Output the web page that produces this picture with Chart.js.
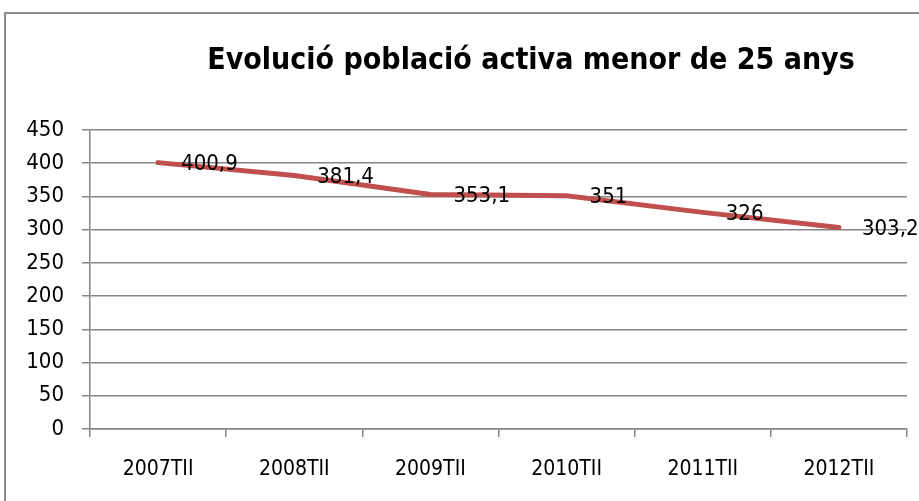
<!DOCTYPE html>
<html>
<head>
<meta charset="utf-8">
<script src="https://cdn.jsdelivr.net/npm/chart.js@4/dist/chart.umd.min.js"></script>
<style>
  html, body { margin: 0; padding: 0; background: #fff; overflow: hidden; }
  #frame {
    position: absolute; left: 4px; top: 12px; width: 1000px; height: 600px;
    border-left: 2px solid #8c8c8c; border-top: 2px solid #8c8c8c;
  }
  #wrap { position: absolute; left: 0; top: 0; width: 919px; height: 501px; }
</style>
</head>
<body>
<div id="frame"></div>
<div id="wrap"><canvas id="chart" width="919" height="501"></canvas></div>
<script>
const FONT = "'Liberation Sans Narrow', 'DejaVu Sans Condensed', 'Open Sans', sans-serif"

const periods = ['2007TII', '2008TII', '2009TII', '2010TII', '2011TII', '2012TII']
const activeUnder25 = [400.9, 381.4, 353.1, 351, 326, 303.2]
const yTicks = [0, 50, 100, 150, 200, 250, 300, 350, 400, 450]

const titleText = 'Evolució població activa menor de 25 anys'

// title sits a bit right of centre, like the original
const titlePlugin = {
  id: 'titleText',
  afterDraw(chart) {
    const ctx = chart.ctx
    ctx.save()
    ctx.font = 'bold 30px ' + FONT
    ctx.fillStyle = '#000'
    ctx.textAlign = 'center'
    ctx.textBaseline = 'middle'
    ctx.fillText(titleText, 531, 61)
    ctx.restore()
  }
}

// value labels to the right of each point
const valueLabels = {
  id: 'valueLabels',
  afterDatasetsDraw(chart) {
    const ctx = chart.ctx
    const meta = chart.getDatasetMeta(0)
    ctx.save()
    ctx.font = '22px ' + FONT
    ctx.fillStyle = '#000'
    ctx.textAlign = 'left'
    ctx.textBaseline = 'middle'
    meta.data.forEach((pt, i) => {
      const txt = String(activeUnder25[i]).replace('.', ',')
      ctx.fillText(txt, pt.x + 23, pt.y + 2)
    })
    ctx.restore()
  }
}

window.addEventListener('load', function () {
  const ctx = document.getElementById('chart')
  new Chart(ctx, {
    type: 'line',
    data: {
      labels: periods,
      datasets: [{
        data: activeUnder25,
        borderColor: '#c0504d',
        borderWidth: 5,
        pointRadius: 0,
        tension: 0,
        borderCapStyle: 'round'
      }]
    },
    options: {
      responsive: false,
      animation: false,
      layout: { padding: { top: 130, right: 12, left: 0, bottom: 0 } },
      plugins: {
        legend: { display: false },
        title: { display: false },
        tooltip: { enabled: false }
      },
      scales: {
        x: {
          offset: true,
          afterFit: (s) => { s.height = 72 },
          grid: {
            offset: true,
            drawOnChartArea: false,
            drawTicks: true,
            tickLength: 8,
            color: '#868686',
            lineWidth: 1.5
          },
          border: { color: '#868686', width: 1.5 },
          ticks: {
            color: '#000',
            padding: 20,
            font: { family: FONT, size: 21 },
            maxRotation: 0
          }
        },
        y: {
          min: 0,
          max: 450,
          afterFit: (s) => { s.width = 90 },
          afterBuildTicks: (s) => { s.ticks = yTicks.map(v => ({ value: v })) },
          grid: {
            color: '#868686',
            lineWidth: 1.5,
            tickLength: 8
          },
          border: { color: '#868686', width: 1.5 },
          ticks: {
            color: '#000',
            padding: 18,
            font: { family: FONT, size: 22 }
          }
        }
      }
    },
    plugins: [titlePlugin, valueLabels]
  })
})
</script>
</body>
</html>
